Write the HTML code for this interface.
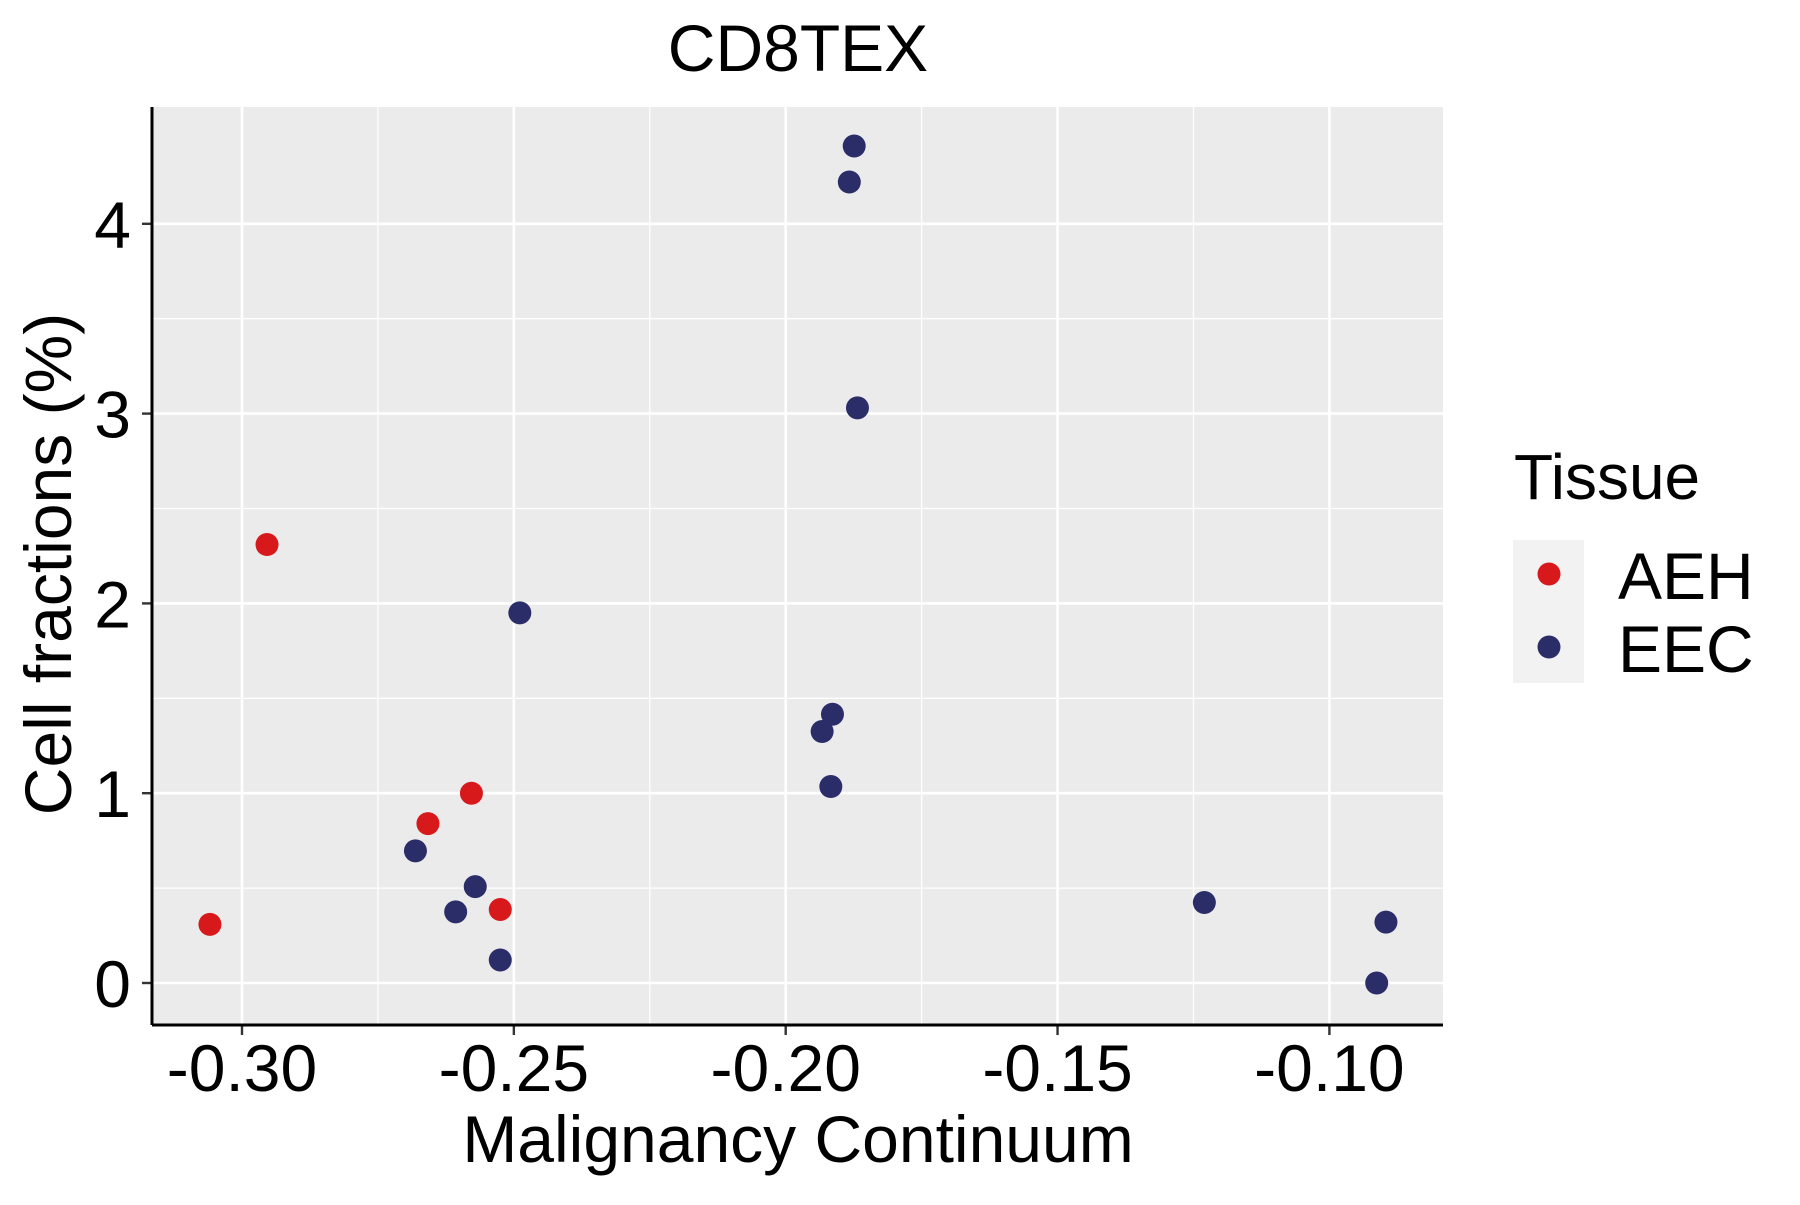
<!DOCTYPE html>
<html><head><meta charset="utf-8"><style>
body{margin:0;background:#fff}
svg text{font-family:"Liberation Sans",sans-serif;fill:#000}
</style></head><body>
<svg id="chart" width="1800" height="1200" xmlns="http://www.w3.org/2000/svg">
<text x="798" y="71" font-size="66" text-anchor="middle">CD8TEX</text>
<rect x="152" y="107" width="1291" height="918" fill="#ebebeb"/>
<g id="grid"></g>
<g id="axes"></g>
<g id="points"></g>
<text x="798" y="1162" font-size="66" text-anchor="middle">Malignancy Continuum</text>
<text transform="translate(71,564) rotate(-90)" font-size="66" text-anchor="middle">Cell fractions (%)</text>
<g>
<text x="1514" y="499" font-size="64">Tissue</text>
<rect x="1513" y="540" width="71" height="143" fill="#f2f2f2"/>
<circle cx="1549" cy="574" r="11.5" fill="#d7191c"/>
<circle cx="1549" cy="647" r="11.5" fill="#2b2d69"/>
<text x="1618" y="599" font-size="66">AEH</text>
<text x="1618" y="672" font-size="66">EEC</text>
</g>
</svg>
<script>
const aehX=[-0.3059,-0.2954,-0.2658,-0.2578,-0.2525];
const aehY=[0.309,2.31,0.84,1.0,0.387];
const eecX=[-0.1874,-0.1883,-0.1868,-0.2489,-0.1914,-0.1933,-0.1917,-0.2681,-0.2571,-0.2607,-0.2525,-0.1230,-0.0896,-0.0913];
const eecY=[4.41,4.22,3.03,1.95,1.416,1.325,1.035,0.696,0.508,0.375,0.121,0.424,0.321,0.0];
const xTicks=[-0.30,-0.25,-0.20,-0.15,-0.10];
const xTickLabels=["-0.30","-0.25","-0.20","-0.15","-0.10"];
const xMinor=[-0.275,-0.225,-0.175,-0.125];
const yTicks=[0,1,2,3,4];
const yTickLabels=["0","1","2","3","4"];
const yMinor=[0.5,1.5,2.5,3.5];
const NS="http://www.w3.org/2000/svg";
const X0=152,X1=1443,Y0=107,Y1=1025;
function sx(v){return 242+(v+0.30)/0.05*271.85;}
function sy(v){return 983-v*189.8;}
function mk(tag,attrs,parent){const e=document.createElementNS(NS,tag);for(const k in attrs)e.setAttribute(k,attrs[k]);parent.appendChild(e);return e;}
const grid=document.getElementById('grid'),axes=document.getElementById('axes'),pts=document.getElementById('points');
xMinor.forEach(v=>{const l=mk('line',{x1:sx(v),x2:sx(v),y1:Y0,y2:Y1,stroke:'#fff','stroke-width':1.3},grid);

});
yMinor.forEach(v=>{const l=mk('line',{x1:X0,x2:X1,y1:sy(v),y2:sy(v),stroke:'#fff','stroke-width':1.3},grid);

});
xTicks.forEach((v,i)=>{const l=mk('line',{x1:sx(v),x2:sx(v),y1:Y0,y2:Y1,stroke:'#fff','stroke-width':2.6},grid);


const t=mk('line',{x1:sx(v),x2:sx(v),y1:Y1,y2:Y1+10,stroke:'#333','stroke-width':2.4},axes);


const tx=mk('text',{x:sx(v),y:1091,'font-size':66,'text-anchor':'middle'},axes);tx.textContent=xTickLabels[i];

});
yTicks.forEach((v,i)=>{const l=mk('line',{x1:X0,x2:X1,y1:sy(v),y2:sy(v),stroke:'#fff','stroke-width':2.6},grid);


const t=mk('line',{x1:X0-10,x2:X0,y1:sy(v),y2:sy(v),stroke:'#333','stroke-width':2.4},axes);


const tx=mk('text',{x:131,y:sy(v)+24,'font-size':66,'text-anchor':'end'},axes);tx.textContent=yTickLabels[i];

});
const ax=mk('line',{x1:X0,x2:X1,y1:Y1,y2:Y1,stroke:'#000','stroke-width':3},axes);


const ay=mk('line',{x1:X0,x2:X0,y1:Y0,y2:Y1,stroke:'#000','stroke-width':3},axes);


aehX.forEach((v,i)=>{const c=mk('circle',{cx:sx(v),cy:sy(aehY[i]),r:11.5,fill:'#d7191c'},pts);

});
eecX.forEach((v,i)=>{const c=mk('circle',{cx:sx(v),cy:sy(eecY[i]),r:11.5,fill:'#2b2d69'},pts);

});
</script>
</body></html>
